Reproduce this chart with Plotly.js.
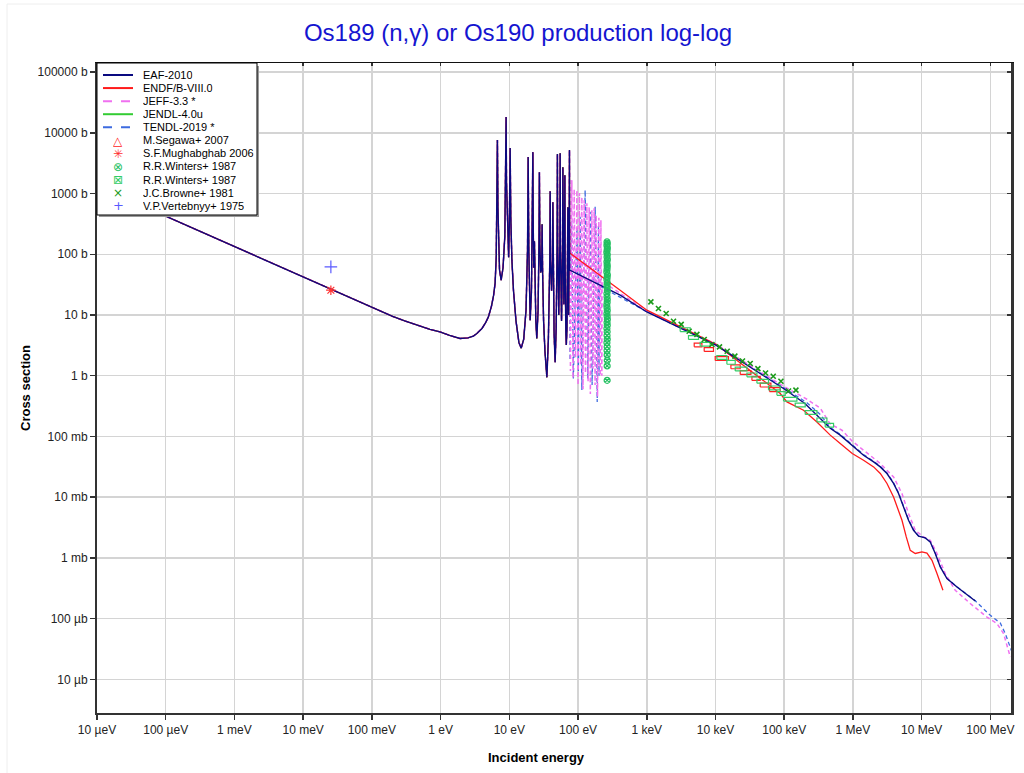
<!DOCTYPE html>
<html><head><meta charset="utf-8">
<script src="https://cdn.plot.ly/plotly-3.0.1.min.js"></script>
<style>html,body{margin:0;padding:0;background:#fff}#chart{width:1024px;height:773px}</style>
</head><body><div id="chart"></div>
<script>
// ---------- data (energy in eV, cross section in barn) ----------
// thermal + resolved resonance region shared by the evaluations
const lowE  = [1e-5,1e-4,1e-3,0.01,0.0253,0.105,0.2,0.3,0.5,0.7,0.98,1.35,1.92,2.5,3.0,3.37,4.0,4.5,4.96,5.5,5.9,6.21,6.45,6.6,6.71,6.82,6.98,7.2,7.6,8.1,8.6,8.85,8.98,9.1,9.4,9.6,9.77,10.0,10.28,10.5,10.9,11.5,12.5,13.8,14.9,16.2,17.5,18.4,18.8,19.2,19.7,20.1,21.0,21.7,22.0,22.3,22.7,23.2,23.6,24.3,25.1,26.2,27.0,27.4,27.8,28.6,29.6,30.0,30.5,31.5,33.0,35.2,37.0,38.8,39.3,39.8,41.2,42.5,43.0,43.6,44.8,46.4,48.0,49.6,50.1,50.6,52.4,54.4,54.9,55.4,57.5,59.5,60.1,60.7,62.2,63.7,64.3,64.9,66.5,67.5,69.0,70.5,71.1,71.7,73.0,74.3,75.0];
const lowXS = [1340,424,134,42.4,26.6,13.0,9.5,8.0,6.5,5.8,5.27,4.6,4.10,4.2,4.5,4.96,6.0,7.4,9.3,14,21,33.4,90,600,7600,600,120,55,37.4,60,200,1500,18150,1500,250,110,89.6,300,5600,400,80,25,8,3.5,2.84,4,12,120,3980,120,20,8.2,25,300,4810,250,60,164,40,8,4.1,12,150,2250,150,50,60,313,50,8,2.5,0.94,4,80,1095,80,25,80,721,40,5,1.67,6,150,4460,150,10,150,4630,150,8,120,2720,100,15,100,2010,60,5,3.2,6,60,597,40,10,150,5190];

const eafHiE  = [75.6,410,1003,10140,97700,200000,299000,467600,653000,977000,1.426e6,2.0e6,2.5e6,3.13e6,3.9e6,4.61e6,5.46e6,6.44e6,7.62e6,9.02e6,1.127e7,1.334e7,1.578e7,1.866e7,2.335e7,3.266e7,6.03e7];
const eafHiXS = [54.7,21.2,11.2,3.18,0.615,0.348,0.223,0.136,0.105,0.0716,0.0490,0.0380,0.0315,0.0245,0.0168,0.01146,0.0069,0.00416,0.00285,0.00227,0.00213,0.00183,0.00118,0.000708,0.000456,0.000332,0.000195];

const endfHiE  = [75.6,410,1003,10140,87450,109400,191000,299000,467600,653000,977000,1.426e6,2.0e6,2.5e6,3.13e6,3.9e6,4.61e6,5.17e6,5.97e6,6.82e6,8.07e6,1.01e7,1.194e7,1.413e7,1.671e7,2.04e7];
const endfHiXS = [105,25.6,12.0,3.30,0.509,0.370,0.270,0.173,0.105,0.0764,0.0523,0.0405,0.0315,0.0245,0.0168,0.01007,0.00608,0.00416,0.00221,0.00133,0.00118,0.00125,0.00120,0.000912,0.000551,0.000292];

const jeffResE  = [77.5,81.2,84.5,87.8,92,96.1,100,104.8,109,113.6,118,122.7,128,134.3,140,145.1,151,158.8,165,171.5,177,183.4,192,200.8,210,215,222];
const jeffResXS = [1.2,1663,0.9,1181,2.0,1138,0.7,1016,1.5,873,0.6,778,1.1,695,0.8,597,0.5,533,1.3,574,0.7,441,0.45,400,1.0,365,1.0];
const jeffHiE  = [224,1003,10140,97700,213800,334000,467600,692000,977000,1.426e6,2.5e6,3.9e6,5.17e6,6.44e6,8.07e6,1.066e7,1.334e7,1.671e7,2.204e7,3.08e7,5.09e7,8.92e7,1.248e8,1.556e8,1.95e8];
const jeffHiXS = [36,11.5,3.30,0.671,0.41,0.292,0.16,0.1265,0.0834,0.0593,0.0358,0.0215,0.01146,0.00537,0.00285,0.00221,0.00195,0.00118,0.000551,0.000292,0.000177,0.000106,0.0000828,0.0000566,0.0000233];

const tendlResE  = [76.5,80.5,85.5,96.1,101,107.3,113.6,126.8,138,150,160,177.4,190,198,202];
const tendlResXS = [1.8,350,0.9,282,1.2,413,0.58,1138,0.9,500,0.7,604,0.37,300,1.0];
const tendlHiE  = [204,1003,10140,97700,213800,334000,467600,653000,977000,1.426e6,2.0e6,2.5e6,3.13e6,3.9e6,4.61e6,5.46e6,6.44e6,7.62e6,9.02e6,1.127e7,1.334e7,1.578e7,1.866e7,2.335e7,3.266e7,6.03e7,9.97e7,1.393e8,1.648e8,2.06e8];
const tendlHiXS = [30,11.3,3.2,0.64,0.36,0.23,0.14,0.108,0.074,0.0505,0.039,0.0322,0.0250,0.0172,0.0118,0.0071,0.0043,0.00290,0.00229,0.00214,0.00185,0.00120,0.00072,0.00046,0.000333,0.000196,0.000113,0.0000847,0.0000566,0.0000282];

// experimental data
const segE1 = [4900,6850,9900,16750,22900,33900,44750,61100];
const segE2 = [6340,9350,15450,22900,32750,44750,64000,87450];
const segXS = [3.21,2.70,1.92,1.40,1.13,0.90,0.70,0.59];

const mughE = [0.0253];
const mughXS = [25.6];

const winCircE  = [264,266,263,267,265,262,266,264,267,263,265,266,264,262,267,265,263,266,264,265,267,263,264,266,265,262,264,266,263,265,267,264,266,263,265,264,266,263,265,264,265,266,265,265];
const winCircXS = [160,150,140,128,118,108,99,90,82,75,68,62,56,51,46,42,38,34,31,28,25,22.5,20,18,16.2,14.6,13.2,11.8,10.6,9.5,8.5,7.6,6.8,6.0,5.3,4.6,4.0,3.5,3.0,2.6,2.2,1.8,1.45,0.84];

const winE1 = [3063,4045,5985,10470,14650,19360,28650,40080,59060,78300,97700,144500,202200,299000,395000];
const winE2 = [4285,5660,8375,14650,19360,28650,40080,59060,87450,103500,153000,202200,299000,418000,522000];
const winXS = [5.73,4.26,3.30,2.0,1.66,1.29,1.03,0.81,0.63,0.51,0.41,0.33,0.248,0.187,0.153];

const brE  = [1148,1479,1915,2448,3170,4140,5360,6850,8870,11430,14800,19140,24700,32000,41400,53500,69200,89500,115600,148000];
const brXS = [16.4,12.8,10.6,7.9,7.0,5.4,4.8,3.95,3.27,2.98,2.53,2.10,1.75,1.59,1.31,1.11,0.98,0.81,0.56,0.58];

const vertE = [0.0253];
const vertXS = [62];

const xTickVals = [1e-5,1e-4,1e-3,1e-2,1e-1,1,10,100,1e3,1e4,1e5,1e6,1e7,1e8];
const xTickText = ['10 µeV','100 µeV','1 meV','10 meV','100 meV','1 eV','10 eV','100 eV','1 keV','10 keV','100 keV','1 MeV','10 MeV','100 MeV'];
const yTickVals = [1e5,1e4,1e3,100,10,1,0.1,0.01,1e-3,1e-4,1e-5];
const yTickText = ['100000 b','10000 b','1000 b','100 b','10 b','1 b','100 mb','10 mb','1 mb','100 µb','10 µb'];

const legendNames = ['EAF-2010','ENDF/B-VIII.0','JEFF-3.3 *','JENDL-4.0u','TENDL-2019 *','M.Segawa+ 2007','S.F.Mughabghab 2006','R.R.Winters+ 1987','R.R.Winters+ 1987','J.C.Browne+ 1981','V.P.Vertebnyy+ 1975'];

// ---------- styles ----------
const C = {
  eaf:'#0a0a80', endf:'#ff1a1a', jeff:'#f070f0', jendl:'#33cc33', tendl:'#3d6be0',
  seg:'#ff2020', mugh:'#ff3030', winC:'#22c060', winS:'#33cc66', br:'#1a9a1a', vert:'#5a5aff'
};
const FONT = 'Liberation Sans, Arial, sans-serif';
const BOX_HALF = 1.075;

function boxes(e1, e2, xs){
  const x=[], y=[];
  for(let i=0;i<xs.length;i++){
    const lo = xs[i]/BOX_HALF, hi = xs[i]*BOX_HALF;
    x.push(e1[i],e2[i],e2[i],e1[i],e1[i],null);
    y.push(lo,lo,hi,hi,lo,null);
  }
  return {x,y};
}

const segBox = boxes(segE1, segE2, segXS);
const winBox = boxes(winE1, winE2, winXS);

const traces = [
  {x: lowE, y: lowXS, mode:'lines', line:{color:C.jendl, width:1}, name:'JENDL-4.0u'},
  {x: lowE.concat(tendlResE, tendlHiE), y: lowXS.concat(tendlResXS, tendlHiXS), mode:'lines', line:{color:C.tendl, width:1.3, dash:'4px,3px'}, name:'TENDL-2019 *'},
  {x: lowE.concat(jeffResE, jeffHiE), y: lowXS.concat(jeffResXS, jeffHiXS), mode:'lines', line:{color:C.jeff, width:1.5, dash:'4px,3px'}, name:'JEFF-3.3 *'},
  {x: lowE.concat(endfHiE), y: lowXS.concat(endfHiXS), mode:'lines', line:{color:C.endf, width:1.3}, name:'ENDF/B-VIII.0'},
  {x: lowE.concat(eafHiE), y: lowXS.concat(eafHiXS), mode:'lines', line:{color:C.eaf, width:1.4}, name:'EAF-2010'},
  {x: segBox.x, y: segBox.y, mode:'lines', line:{color:C.seg, width:1.2}, connectgaps:false, name:'M.Segawa+ 2007'},
  {x: winBox.x, y: winBox.y, mode:'lines', line:{color:C.winS, width:1.2}, connectgaps:false, name:'R.R.Winters+ 1987'},
  {x: winCircE, y: winCircXS, mode:'markers', marker:{symbol:'circle-x-open', size:6, color:C.winC, line:{width:1.2}}, name:'R.R.Winters+ 1987'},
  {x: brE, y: brXS, mode:'markers', marker:{symbol:'x-thin-open', size:5, color:C.br, line:{width:1.6, color:C.br}}, name:'J.C.Browne+ 1981'},
  {x: mughE, y: mughXS, mode:'markers', marker:{symbol:'asterisk-open', size:8, color:C.mugh, line:{width:1.2, color:C.mugh}}, name:'S.F.Mughabghab 2006'},
  {x: vertE, y: vertXS, mode:'markers', marker:{symbol:'cross-thin-open', size:9, color:C.vert, line:{width:1.2, color:C.vert}}, name:'V.P.Vertebnyy+ 1975'},
  {x: [], y: [], xaxis:'x2', yaxis:'y2', mode:'lines', hoverinfo:'skip'}
];
traces.forEach(t => t.showlegend = false);

// ---------- custom legend (compact, like the reference) ----------
const PLOT_L = 97, PLOT_T = 63, PLOT_W = 914, PLOT_H = 650;
const px = v => (v - PLOT_L) / PLOT_W;
const py = v => (PLOT_T + PLOT_H - v) / PLOT_H;
const rowY0 = 75, rowStep = 13.07;
const legendStyle = [
  {line:C.eaf}, {line:C.endf}, {line:C.jeff, dash:'dash'}, {line:C.jendl}, {line:C.tendl, dash:'dash'},
  {glyph:'△', color:C.seg, size:12}, {glyph:'✳', color:C.mugh, size:12}, {glyph:'⊗', color:C.winC, size:12},
  {glyph:'⊠', color:C.winS, size:12}, {glyph:'×', color:C.br, size:12}, {glyph:'+', color:C.vert, size:13}
];

const shapes = [
  {type:'line', xref:'paper', yref:'paper', x0:px(7), x1:px(1024), y0:py(4), y1:py(4), line:{color:'#eeeeee', width:1}, layer:'below'},
  {type:'line', xref:'paper', yref:'paper', x0:px(7), x1:px(7), y0:py(4), y1:py(773), line:{color:'#eeeeee', width:1}, layer:'below'},
  {type:'rect', xref:'paper', yref:'paper', x0:px(99), x1:px(259), y0:py(217), y1:py(66), fillcolor:'#9a9a9a', line:{width:0}, layer:'above'},
  {type:'rect', xref:'paper', yref:'paper', x0:px(97), x1:px(257), y0:py(215), y1:py(63), fillcolor:'#ffffff', line:{color:'#000000', width:1}, layer:'above'}
];
const annotations = [];
legendNames.forEach((nm, i) => {
  const yy = py(rowY0 + i*rowStep);
  const s = legendStyle[i];
  if (s.line){
    shapes.push({type:'line', xref:'paper', yref:'paper', x0:px(103), x1:px(133), y0:yy, y1:yy,
      line:{color:s.line, width:2, dash:s.dash||'solid'}, layer:'above'});
  } else {
    annotations.push({xref:'paper', yref:'paper', x:px(118), y:yy, text:s.glyph, showarrow:false, height:13,
      xanchor:'center', yanchor:'middle', borderpad:0, font:{family:'DejaVu Sans', size:s.size, color:s.color}});
  }
  annotations.push({xref:'paper', yref:'paper', x:px(142), y:yy, text:nm, showarrow:false, height:12, borderpad:0,
    xanchor:'left', yanchor:'middle', font:{family:FONT, size:11, color:'#000'}});
});
annotations.push({xref:'paper', yref:'paper', x:px(536), y:py(757), text:'<b>Incident energy</b>', showarrow:false,
  xanchor:'center', yanchor:'middle', font:{family:FONT, size:13, color:'#000'}});
annotations.push({xref:'paper', yref:'paper', x:px(25), y:0.5, text:'<b>Cross section</b>', showarrow:false, textangle:-90,
  xanchor:'center', yanchor:'middle', font:{family:FONT, size:13, color:'#000'}});

const xRange = [-5, 8.3];
const yRange = [-5.555, 5.15];
const tickFont = {family:FONT, size:12, color:'#222'};

const layout = {
  width:1024, height:773,
  margin:{l:PLOT_L, r:13, t:PLOT_T, b:60},
  paper_bgcolor:'#ffffff', plot_bgcolor:'#ffffff',
  showlegend:false,
  title:{text:'Os189 (n,γ) or Os190 production log-log', font:{family:FONT, size:24, color:'#1515d0'},
    x:518/1024, xref:'container', xanchor:'center', y:1-33/773, yref:'container', yanchor:'middle'},
  xaxis:{type:'log', range:xRange, tickmode:'array', tickvals:xTickVals, ticktext:xTickText,
    showgrid:true, gridcolor:'#d4d4d4', gridwidth:1.5, zeroline:false,
    showline:true, linecolor:'#333', linewidth:2, ticks:'outside', ticklen:5, tickwidth:1.5, tickcolor:'#333',
    tickfont:tickFont, mirror:false},
  yaxis:{type:'log', range:yRange, tickmode:'array', tickvals:yTickVals, ticktext:yTickText,
    showgrid:true, gridcolor:'#d4d4d4', gridwidth:1.5, zeroline:false,
    showline:true, linecolor:'#333', linewidth:2, ticks:'outside', ticklen:5, tickwidth:1.5, tickcolor:'#333',
    tickfont:tickFont, mirror:false},
  xaxis2:{type:'log', range:xRange, overlaying:'x', side:'top', anchor:'y2', tickmode:'array', tickvals:xTickVals,
    showticklabels:false, showgrid:false, zeroline:false, showline:true, linecolor:'#111', linewidth:1.5,
    ticks:'inside', ticklen:3, tickwidth:1.5, tickcolor:'#333'},
  yaxis2:{type:'log', range:yRange, overlaying:'y', side:'right', anchor:'x2', tickmode:'array', tickvals:yTickVals,
    showticklabels:false, showgrid:false, zeroline:false, showline:true, linecolor:'#333', linewidth:2.5,
    ticks:'inside', ticklen:4, tickwidth:1.5, tickcolor:'#333'},
  shapes: shapes,
  annotations: annotations
};

Plotly.newPlot('chart', traces, layout, {displayModeBar:false, staticPlot:true});
</script>
</body></html>
